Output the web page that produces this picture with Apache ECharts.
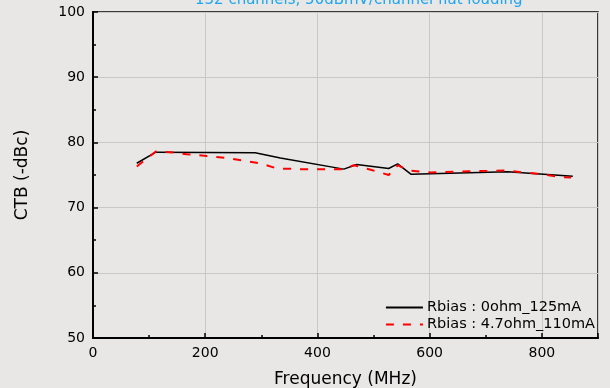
<!DOCTYPE html>
<html><head><meta charset="utf-8">
<script src="https://cdn.jsdelivr.net/npm/echarts@6/dist/echarts.min.js"></script>
<style>html,body{margin:0;padding:0;background:#e8e7e5;}#c{width:610px;height:388px;}</style>
</head><body><div id="c"></div>
<script>
const titleText = '132 channels, 50dBmV/channel flat loading';
const seriesNames = ['Rbias : 0ohm_125mA', 'Rbias : 4.7ohm_110mA'];
const freqA = [78, 112, 289, 334, 447, 470, 527, 543, 567, 739, 855];
const ctbA  = [76.8, 78.5, 78.4, 77.6, 75.9, 76.6, 76.0, 76.7, 75.1, 75.5, 74.8];
const freqB = [78, 112, 137, 167, 203, 239, 268, 298, 328, 370, 417, 447, 465, 495, 527, 543, 562, 602, 732, 792, 834, 852];
const ctbB  = [76.3, 78.6, 78.5, 78.2, 77.9, 77.6, 77.2, 76.8, 76.0, 75.9, 75.9, 75.9, 76.5, 75.8, 75.0, 76.5, 75.7, 75.4, 75.7, 75.2, 74.7, 74.6];
const xTicks = [0, 200, 400, 600, 800];
const yTicks = [50, 60, 70, 80, 90, 100];

const font = 'DejaVu Sans, Liberation Sans, sans-serif';
const chart = echarts.init(document.getElementById('c'));
chart.setOption({
  backgroundColor: '#e8e7e5',
  animation: false,
  title: { text: titleText, left: 190, top: -12, textStyle: { color: '#1ea7ee', fontSize: 15, fontWeight: 'normal', fontFamily: font } },
  grid: { left: 93, right: 12, top: 12, bottom: 50, containLabel: false, outerBoundsMode: 'none',
    show: true, borderColor: '#000', borderWidth: 1.5, backgroundColor: 'transparent' },
  legend: {
    orient: 'vertical', right: 10, bottom: 51, itemWidth: 37, itemHeight: 10, itemGap: 2,
    itemStyle: { opacity: 0 },
    textStyle: { fontSize: 14.5, fontFamily: font, color: '#000', padding: [0, 0, 0, -1] },
    data: seriesNames
  },
  xAxis: {
    type: 'value', min: 0, max: 900, interval: 200,
    name: 'Frequency (MHz)', nameLocation: 'middle', nameGap: 33,
    nameTextStyle: { fontSize: 17, fontFamily: font, color: '#000' },
    axisLine: { lineStyle: { color: '#000', width: 2 } },
    axisTick: { inside: true, length: 5, lineStyle: { color: '#000', width: 1.5 } },
    minorTick: { show: true, splitNumber: 2, length: 3, lineStyle: { color: '#000', width: 1.5 } },
    axisLabel: { fontSize: 14, fontFamily: font, color: '#000', margin: 8, showMaxLabel: false,
      formatter: v => xTicks.includes(v) ? String(v) : '' },
    splitLine: { show: true, lineStyle: { color: '#c8c8c8', width: 1 } }
  },
  yAxis: {
    type: 'value', min: 50, max: 100, interval: 10,
    name: 'CTB (-dBc)', nameLocation: 'middle', nameGap: 62,
    nameTextStyle: { fontSize: 17, fontFamily: font, color: '#000' },
    axisLine: { lineStyle: { color: '#000', width: 2 } },
    axisTick: { inside: true, length: 5, lineStyle: { color: '#000', width: 1.5 } },
    minorTick: { show: true, splitNumber: 2, length: 3, lineStyle: { color: '#000', width: 1.5 } },
    axisLabel: { fontSize: 14, fontFamily: font, color: '#000', margin: 8,
      formatter: v => yTicks.includes(v) ? String(v) : '' },
    splitLine: { show: true, lineStyle: { color: '#c8c8c8', width: 1 } }
  },
  series: [
    { name: seriesNames[0], type: 'line', symbol: 'none', data: freqA.map((f, i) => [f, ctbA[i]]),
      lineStyle: { color: '#000', width: 1.5 }, itemStyle: { color: '#000' } },
    { name: seriesNames[1], type: 'line', symbol: 'none', data: freqB.map((f, i) => [f, ctbB[i]]),
      lineStyle: { color: '#ff0000', width: 2, type: [8, 9] }, itemStyle: { color: '#ff0000' } }
  ]
});
</script></body></html>
